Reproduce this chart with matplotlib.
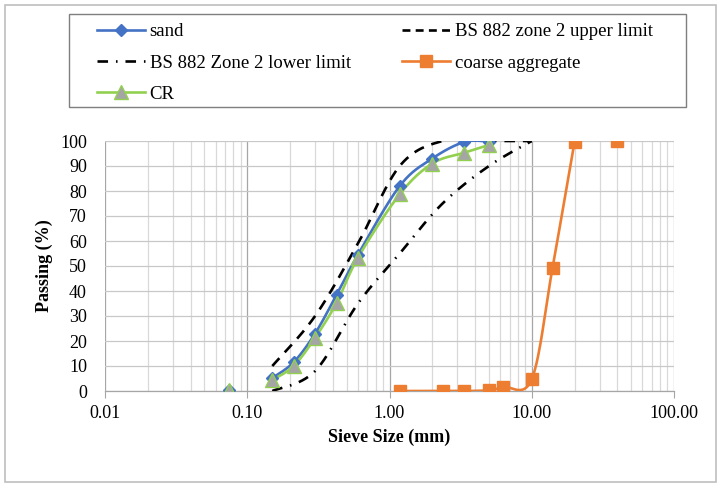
"""Grading curves for sand, CR and coarse aggregate against BS 882 zone 2 limits."""

import matplotlib

matplotlib.use("Agg")
import matplotlib.pyplot as plt
import numpy as np
from matplotlib.lines import Line2D
from matplotlib.patches import Rectangle
from matplotlib.ticker import FixedLocator, LogLocator, NullFormatter

# Sieve sizes (mm) and percentage passing.
FINE_SIEVES = [0.075, 0.15, 0.212, 0.3, 0.425, 0.6, 1.18, 2.0, 3.35, 5.0]
SAND_PASSING = [0.5, 5.2, 11.5, 23.0, 38.5, 54.5, 82.0, 93.0, 99.6, 99.8]
CR_PASSING = [0.3, 4.4, 10.0, 21.3, 35.3, 53.3, 78.7, 91.0, 95.3, 98.4]

LIMIT_SIEVES = [0.15, 0.3, 0.6, 1.18, 2.36, 5.0, 10.0]
UPPER_LIMIT = [10, 30, 59, 90, 100, 100, 100]
LOWER_LIMIT = [0, 8, 35, 55, 75, 90, 100]

COARSE_SIEVES = [1.18, 2.36, 3.35, 5.0, 6.3, 10.0, 14.0, 20.0, 40.0]
COARSE_PASSING = [0.0, 0.0, 0.0, 0.3, 1.6, 4.7, 49.3, 99.7, 100.0]

X_TICKS = [0.01, 0.1, 1, 10, 100]
X_TICK_LABELS = ["0.01", "0.10", "1.00", "10.00", "100.00"]

BLUE = "#4472C4"
GREEN = "#92D050"
GREY = "#A5A5A5"
ORANGE = "#ED7D31"

W, H = 724, 487


def smooth(x, y, steps=30):
    """Excel-style smoothed line: Catmull-Rom through points in log-x space."""
    lx = np.log10(np.asarray(x, dtype=float))
    yy = np.asarray(y, dtype=float)
    pts = np.column_stack((lx, yy))
    padded = np.vstack((pts[0], pts, pts[-1]))
    out = [pts[0]]
    t = np.linspace(0, 1, steps)[1:, None]
    for i in range(len(pts) - 1):
        p0, p1, p2, p3 = padded[i], padded[i + 1], padded[i + 2], padded[i + 3]
        c1 = p1 + (p2 - p0) / 6
        c2 = p2 - (p3 - p1) / 6
        seg = (
            (1 - t) ** 3 * p1
            + 3 * (1 - t) ** 2 * t * c1
            + 3 * (1 - t) * t**2 * c2
            + t**3 * p2
        )
        out.extend(seg)
    out = np.asarray(out)
    return 10 ** out[:, 0], out[:, 1]


plt.rcParams.update({"font.family": "Liberation Serif", "font.size": 13})
fig = plt.figure(figsize=(W / 100, H / 100), dpi=100)
ax = fig.add_axes([105 / W, 1 - 391 / H, 569 / W, 250 / H])

# outer chart border and legend frame
fig.patches.append(
    Rectangle((5 / W, 5 / H), 711 / W, 477 / H, transform=fig.transFigure,
              fill=False, edgecolor="#BFBFBF", linewidth=1.2)
)
fig.patches.append(
    Rectangle((69 / W, 1 - 107 / H), 617 / W, 93 / H, transform=fig.transFigure,
              fill=False, edgecolor="#7F7F7F", linewidth=1.0)
)

lw = 1.9
sand_ms, cr_ms, coarse_ms = 6.5, 9.5, 8

# sand
sx, sy = smooth(FINE_SIEVES[1:], SAND_PASSING[1:])
ax.plot(sx, sy, color=BLUE, linewidth=lw, zorder=4)
ax.plot(FINE_SIEVES, SAND_PASSING, linestyle="none", marker="D", markersize=sand_ms,
        color=BLUE, zorder=5)

# CR
cx, cy = smooth(FINE_SIEVES[1:], CR_PASSING[1:])
ax.plot(cx, cy, color=GREEN, linewidth=lw, zorder=4)
ax.plot(FINE_SIEVES, CR_PASSING, linestyle="none", marker="^", markersize=cr_ms,
        markerfacecolor=GREY, markeredgecolor=GREEN, markeredgewidth=1.0, zorder=6)

# BS 882 limits
ux, uy = smooth(LIMIT_SIEVES, UPPER_LIMIT)
ax.plot(ux, uy, color="black", linewidth=lw, dashes=(4, 3), zorder=3)
lx_, ly_ = smooth(LIMIT_SIEVES, LOWER_LIMIT)
ax.plot(lx_, ly_, color="black", linewidth=lw, dashes=(4, 3, 0.6, 3), zorder=3)

# coarse aggregate
gx, gy = smooth(COARSE_SIEVES[:-1], COARSE_PASSING[:-1])
ax.plot(gx, gy, color=ORANGE, linewidth=lw, zorder=4)
ax.plot(COARSE_SIEVES, COARSE_PASSING, linestyle="none", marker="s",
        markersize=coarse_ms, color=ORANGE, zorder=5)

ax.set_xscale("log")
ax.set_xlim(0.01, 100)
ax.set_ylim(0, 100)
ax.xaxis.set_major_locator(FixedLocator(X_TICKS))
ax.set_xticklabels(X_TICK_LABELS)
ax.xaxis.set_minor_locator(LogLocator(base=10, subs=np.arange(2, 10)))
ax.xaxis.set_minor_formatter(NullFormatter())
ax.set_yticks(np.arange(0, 101, 10))

ax.grid(which="major", axis="x", color="#A6A6A6", linewidth=0.9, zorder=0)
ax.grid(which="minor", axis="x", color="#D9D9D9", linewidth=0.9, zorder=0)
ax.grid(which="major", axis="y", color="#C8C8C8", linewidth=0.9, zorder=0)
ax.set_axisbelow(True)

for side in ("top", "right", "left"):
    ax.spines[side].set_visible(False)
ax.spines["bottom"].set_color("#A6A6A6")
ax.spines["bottom"].set_linewidth(0.9)
ax.tick_params(axis="x", which="major", length=5, color="#A6A6A6", pad=5,
               labelsize=13)
ax.tick_params(axis="x", which="minor", length=0)
ax.tick_params(axis="y", length=0, pad=13, labelsize=13)

ax.set_xlabel("Sieve Size (mm)", fontweight="bold", fontsize=13, labelpad=5)
ax.set_ylabel("Passing (%)", fontweight="bold", fontsize=13, labelpad=5)

handles = [
    Line2D([], [], color=BLUE, linewidth=lw, marker="D", markersize=sand_ms),
    Line2D([], [], color="black", linewidth=lw, dashes=(4, 3, 0.6, 3)),
    Line2D([], [], color=GREEN, linewidth=lw, marker="^", markersize=cr_ms,
           markerfacecolor=GREY, markeredgecolor=GREEN),
    Line2D([], [], color="black", linewidth=lw, dashes=(3, 2)),
    Line2D([], [], color=ORANGE, linewidth=lw, marker="s", markersize=coarse_ms),
]
labels = [
    "sand",
    "BS 882 Zone 2 lower limit",
    "CR",
    "BS 882 zone 2 upper limit",
    "coarse aggregate",
]
fig.legend(
    handles, labels, ncol=2,
    loc="upper left",
    bbox_to_anchor=(97 / W, 1 - 23 / H),
    frameon=False,
    fontsize=13.5, handlelength=2.56, handletextpad=0.25,
    labelspacing=0.76, borderpad=0.0, borderaxespad=0.0, columnspacing=2.75,
)

fig.savefig("out.png", dpi=100)
